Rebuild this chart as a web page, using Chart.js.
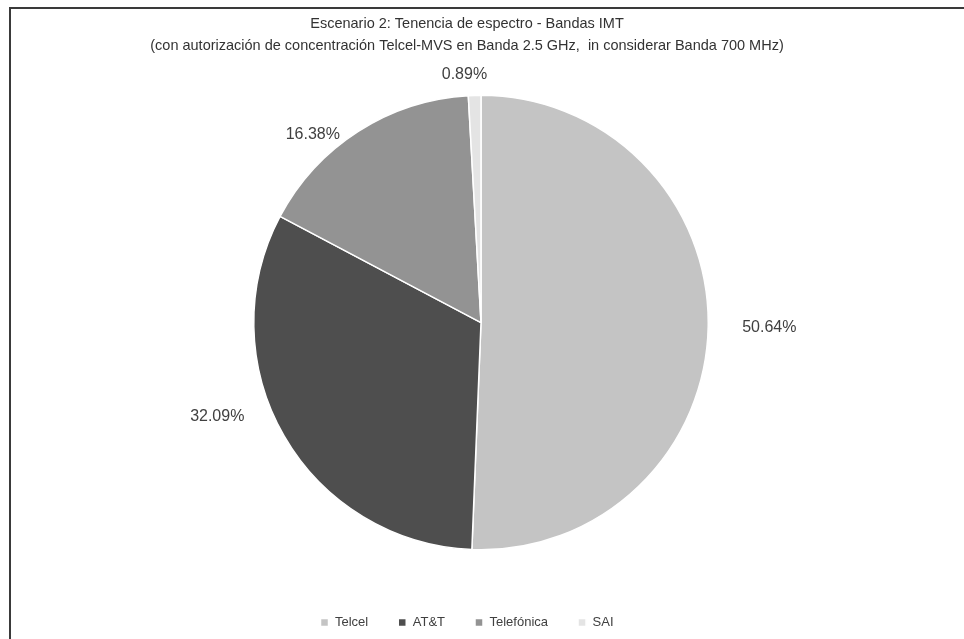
<!DOCTYPE html>
<html>
<head>
<meta charset="utf-8">
<script src="https://cdn.jsdelivr.net/npm/chart.js@4/dist/chart.umd.min.js"></script>
<style>
  html, body { margin: 0; padding: 0; background: #ffffff; }
  #wrap { position: relative; width: 964px; height: 639px; }
  #frame { position: absolute; left: 9px; top: 7px; right: 0; bottom: 0;
           border-left: 2px solid #3a3a3a; border-top: 2px solid #3a3a3a; pointer-events: none; }
  canvas { position: absolute; left: 0; top: 0; }
</style>
</head>
<body>
<div id="wrap">
  <canvas id="c" width="964" height="639"></canvas>
  <div id="frame"></div>
</div>
<script>
const titleLines = [
  "Escenario 2: Tenencia de espectro - Bandas IMT",
  "(con autorización de concentración Telcel-MVS en Banda 2.5 GHz,  in considerar Banda 700 MHz)"
];
const categories = ["Telcel", "AT&T", "Telefónica", "SAI"];
const shares = [50.64, 32.09, 16.38, 0.89];
const sliceColors = ["#c4c4c4", "#4e4e4e", "#939393", "#e4e4e4"];

// label placement tweaks (Excel "best fit" style): extra gap beyond the rim, and angle turn (deg)
const labelGap = [34, 28, 9, 14];
const labelTurn = [0, 9, -7, -2];

const shiftPlugin = {
  id: 'shiftPie',
  afterLayout(chart) {
    const a = chart.chartArea;
    a.left += 28;
    a.width = a.right - a.left;
  }
};

const outsideLabels = {
  id: 'outsideLabels',
  afterDatasetsDraw(chart) {
    const ctx = chart.ctx;
    const meta = chart.getDatasetMeta(0);
    ctx.save();
    ctx.font = '16px "Liberation Sans", Arial, sans-serif';
    ctx.fillStyle = '#404040';
    ctx.textAlign = 'center';
    ctx.textBaseline = 'middle';
    meta.data.forEach((arc, i) => {
      const p = arc.getProps(['x', 'y', 'startAngle', 'endAngle', 'outerRadius'], true);
      const mid = (p.startAngle + p.endAngle) / 2 + labelTurn[i] * Math.PI / 180;
      const dx = Math.cos(mid), dy = Math.sin(mid);
      const txt = shares[i].toFixed(2) + '%';
      const w = ctx.measureText(txt).width, h = 15;
      const r = p.outerRadius + labelGap[i];
      const cx = p.x + dx * r + dx * w / 2;
      const cy = p.y + dy * r + dy * h / 2;
      ctx.fillText(txt, cx, cy);
    });
    ctx.restore();
  }
};

new Chart(document.getElementById('c'), {
  type: 'pie',
  data: {
    labels: categories,
    datasets: [{
      data: shares,
      backgroundColor: sliceColors,
      borderColor: '#ffffff',
      borderWidth: 1.5,
      radius: '86.5%'
    }]
  },
  options: {
    responsive: false,
    animation: false,
    layout: { padding: { left: 0, right: 30, top: 0, bottom: 0 } },
    plugins: {
      title: {
        display: true,
        text: titleLines,
        color: '#333333',
        font: { family: '"Liberation Sans", Arial, sans-serif', size: 14.5, weight: 'normal', lineHeight: 1.52 },
        padding: { top: 13, bottom: 2 }
      },
      legend: {
        display: true,
        position: 'bottom',
        labels: {
          color: '#404040',
          font: { family: '"Liberation Sans", Arial, sans-serif', size: 13 },
          boxWidth: 8,
          boxHeight: 8,
          padding: 30
        }
      },
      tooltip: { enabled: false }
    }
  },
  plugins: [shiftPlugin, outsideLabels]
});
</script>
</body>
</html>
